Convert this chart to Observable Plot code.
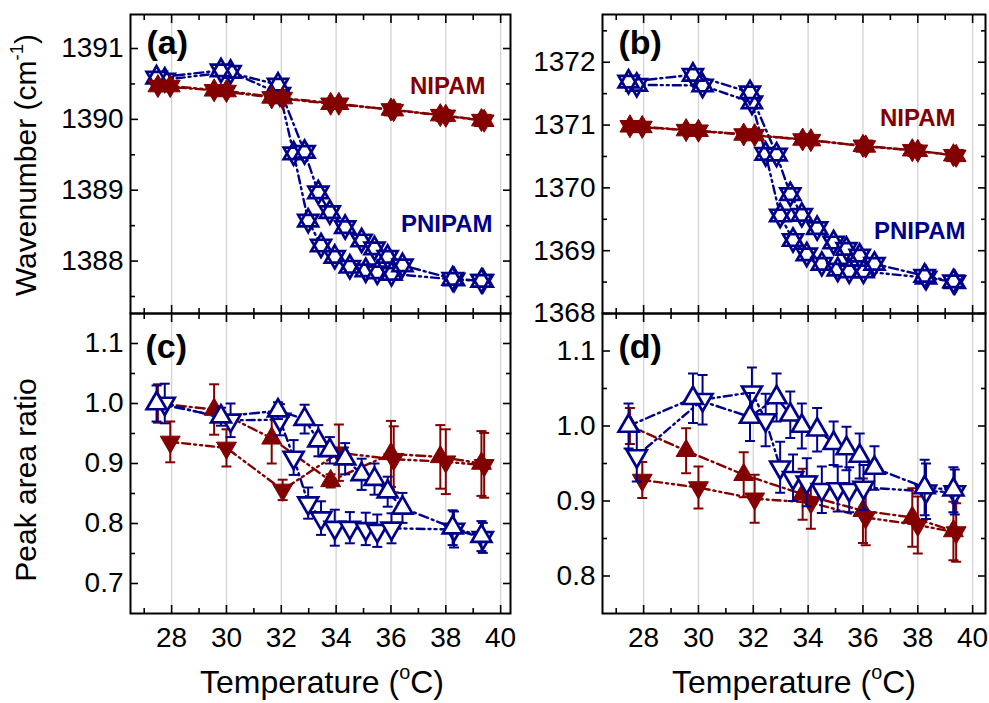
<!DOCTYPE html>
<html><head><meta charset="utf-8">
<script src="https://cdn.jsdelivr.net/npm/d3@7"></script>
<script src="https://cdn.jsdelivr.net/npm/@observablehq/plot@0.6"></script>
<style>
body{margin:0;background:#fff;}
#wrap{position:relative;width:989px;height:703px;overflow:hidden;font-family:"Liberation Sans",Arial,sans-serif;background:#fff;}
#wrap svg{position:absolute;overflow:visible;background:transparent;max-width:none;}
.lab{position:absolute;color:#000;white-space:nowrap;line-height:1;font-family:"Liberation Sans",Arial,sans-serif;}
.sup{font-size:0.62em;position:relative;top:-0.72em;}
</style></head><body><div id="wrap"></div>
<script>
// ---------- data ----------
// temperatures (°C) of the four series
const tempNipamUp    = [27.5, 29.55, 31.65, 33.8, 36.0, 37.8, 39.3];
const tempNipamDown  = [27.95, 30.0, 32.05, 34.1, 36.1, 38.0, 39.4];
const tempPnipamUp   = [27.45, 29.8, 31.88, 32.85, 33.35, 33.77, 34.33, 34.93, 35.4, 35.88, 36.42, 38.25, 39.3];
const tempPnipamDown = [27.75, 30.15, 31.95, 32.45, 32.98, 33.45, 33.95, 34.5, 35.08, 35.5, 36.02, 38.3, 39.35];

// (a) wavenumber ~1390 cm-1
const aNipamUp    = [1390.47, 1390.41, 1390.31, 1390.22, 1390.14, 1390.06, 1389.99];
const aNipamDown  = [1390.47, 1390.40, 1390.30, 1390.22, 1390.13, 1390.05, 1389.98];
const aPnipamUp   = [1390.59, 1390.69, 1390.49, 1389.54, 1388.97, 1388.69, 1388.48, 1388.29, 1388.18, 1388.06, 1387.94, 1387.75, 1387.72];
const aPnipamDown = [1390.56, 1390.67, 1390.36, 1389.52, 1388.57, 1388.22, 1388.06, 1387.92, 1387.87, 1387.84, 1387.82, 1387.74, 1387.72];

// (b) wavenumber ~1370 cm-1
const bNipamUp    = [1370.98, 1370.92, 1370.85, 1370.77, 1370.67, 1370.60, 1370.52];
const bNipamDown  = [1370.97, 1370.91, 1370.84, 1370.76, 1370.66, 1370.59, 1370.51];
const bPnipamUp   = [1371.69, 1371.80, 1371.52, 1370.53, 1369.90, 1369.57, 1369.36, 1369.13, 1369.03, 1368.92, 1368.79, 1368.60, 1368.51];
const bPnipamDown = [1371.64, 1371.63, 1371.36, 1370.54, 1369.56, 1369.17, 1368.94, 1368.79, 1368.70, 1368.67, 1368.67, 1368.57, 1368.50];

// (c) peak area ratio
const cNipamUp       = [1.0, 0.99, 0.942, 0.871, 0.916, 0.911, 0.9];
const cNipamUpErr    = [0.032, 0.042, 0.042, 0.011, 0.055, 0.053, 0.054];
const cNipamDown     = [0.936, 0.926, 0.856, 0.918, 0.907, 0.903, 0.897];
const cNipamDownErr  = [0.034, 0.031, 0.017, 0.047, 0.055, 0.054, 0.054];
const cPnipamUp      = [1.0, 0.978, 0.988, 0.974, 0.938, 0.922, 0.908, 0.882, 0.874, 0.853, 0.826, 0.793, 0.779];
const cPnipamUpErr   = [0.03, 0.015, 0.014, 0.024, 0.026, 0.022, 0.026, 0.026, 0.026, 0.025, 0.025, 0.029, 0.025];
const cPnipamDown    = [1.0, 0.972, 0.973, 0.91, 0.834, 0.809, 0.793, 0.793, 0.791, 0.788, 0.792, 0.79, 0.776];
const cPnipamDownErr = [0.033, 0.028, 0.026, 0.029, 0.026, 0.028, 0.03, 0.026, 0.027, 0.027, 0.025, 0.03, 0.025];

// (d) peak area ratio
const dNipamUp       = [1.0, 0.967, 0.935, 0.909, 0.887, 0.878, 0.86];
const dNipamUpErr    = [0.024, 0.03, 0.03, 0.034, 0.043, 0.039, 0.039];
const dNipamDown     = [0.928, 0.918, 0.903, 0.898, 0.878, 0.868, 0.858];
const dNipamDownErr  = [0.024, 0.028, 0.032, 0.035, 0.037, 0.038, 0.039];
const dPnipamUp      = [1.0, 1.037, 1.012, 1.038, 1.015, 1.0, 0.995, 0.977, 0.97, 0.96, 0.944, 0.918, 0.915];
const dPnipamUpErr   = [0.03, 0.033, 0.032, 0.032, 0.031, 0.03, 0.029, 0.029, 0.029, 0.03, 0.029, 0.037, 0.03];
const dPnipamDown    = [0.96, 1.035, 1.045, 1.008, 0.945, 0.931, 0.925, 0.915, 0.916, 0.915, 0.918, 0.913, 0.912];
const dPnipamDownErr = [0.034, 0.033, 0.033, 0.035, 0.034, 0.031, 0.032, 0.031, 0.03, 0.03, 0.03, 0.037, 0.03];

// tick values / labels
const xMajorTicks = [28, 30, 32, 34, 36, 38, 40];
const xMinorTicks = [27, 29, 31, 33, 35, 37, 39];
const yTicksA = [1388, 1389, 1390, 1391];
const yMinorA = [1387.5, 1388.5, 1389.5, 1390.5];
const yTicksB = [1368, 1369, 1370, 1371, 1372];
const yMinorB = [1368.5, 1369.5, 1370.5, 1371.5, 1372.5];
const yTicksC = [0.7, 0.8, 0.9, 1.0, 1.1];
const yMinorC = [0.75, 0.85, 0.95, 1.05];
const yTicksD = [0.8, 0.9, 1.0, 1.1];
const yMinorD = [0.85, 0.95, 1.05];
const panelLabels = ["(a)", "(b)", "(c)", "(d)"];
const materialLabels = ["NIPAM", "PNIPAM"];

// ---------- styling ----------
const RED = "#820000", BLUE = "#00008b";
const DASH_UP = "9,4,2,4", DASH_DOWN = "2,4,2,4,8,4";
const FONT = '"Liberation Sans", Arial, sans-serif';

// both triangles wound the same way so overlapping fills stay solid
const triUp = {draw(c, size) { const R = Math.sqrt(size / Math.PI);
  c.moveTo(0, -R); c.lineTo(R * 0.866, R * 0.5); c.lineTo(-R * 0.866, R * 0.5); c.closePath(); }};
const triDown = {draw(c, size) { const R = Math.sqrt(size / Math.PI);
  c.moveTo(0, R); c.lineTo(-R * 0.866, -R * 0.5); c.lineTo(R * 0.866, -R * 0.5); c.closePath(); }};
const hexagram = {draw(c, size) { triUp.draw(c, size); triDown.draw(c, size); }};
const capSym = {draw(c, size) { const R = Math.sqrt(size / Math.PI); c.moveTo(-R, 0); c.lineTo(R, 0); }};

function rows(T, v, e) { return T.map((t, i) => ({T: t, v: v[i], e: e ? e[i] : 0})); }

const wrap = document.getElementById("wrap");
const ML = 90, MR = 14, MT = 12, MB = 52;

function panel(p) {
  const W = p.right - p.left, H = p.bottom - p.top;
  const marks = [];
  marks.push(Plot.gridX(xMajorTicks, {stroke: "#d4d4d4", strokeOpacity: 1, strokeWidth: 1.3}));
  for (const s of p.series) {
    marks.push(Plot.line(s.data, {x: "T", y: "v", stroke: s.color, strokeWidth: 2.4, strokeDasharray: s.dash}));
  }
  for (const s of p.series) {
    if (p.errors) {
      marks.push(Plot.ruleX(s.data, {x: "T", y1: d => d.v - d.e, y2: d => d.v + d.e, stroke: s.color, strokeWidth: 2}));
      marks.push(Plot.dot(s.data, {x: "T", y: d => d.v + d.e, symbol: capSym, r: 5, stroke: s.color, strokeWidth: 2}));
      marks.push(Plot.dot(s.data, {x: "T", y: d => d.v - d.e, symbol: capSym, r: 5, stroke: s.color, strokeWidth: 2}));
    }
    marks.push(Plot.dot(s.data, {x: "T", y: "v", symbol: s.symbol, r: 11.5,
      fill: s.filled ? s.color : "white", stroke: s.color, strokeWidth: s.filled ? 1 : 2.7, strokeLinejoin: "miter"}));
  }
  marks.push(Plot.frame({stroke: "#000", strokeWidth: 2}));
  const blank = () => "";
  // y axis labels + inward ticks (left and right)
  marks.push(Plot.axisY(p.yTicks, {anchor: "left", tickSize: 0, tickPadding: 7, tickFormat: p.yFmt, label: null, fontSize: 28, fill: "#000"}));
  marks.push(Plot.axisY(p.yTicks, {anchor: "left", tickSize: 8, dx: 8, tickFormat: blank, label: null, strokeWidth: 1.6}));
  marks.push(Plot.axisY(p.yMinor, {anchor: "left", tickSize: 5, dx: 5, tickFormat: blank, label: null, strokeWidth: 1.6}));
  marks.push(Plot.axisY(p.yTicks, {anchor: "right", tickSize: 8, dx: -8, tickFormat: blank, label: null, strokeWidth: 1.6}));
  marks.push(Plot.axisY(p.yMinor, {anchor: "right", tickSize: 5, dx: -5, tickFormat: blank, label: null, strokeWidth: 1.6}));
  // x axis ticks inward (top and bottom)
  marks.push(Plot.axisX(xMajorTicks, {anchor: "bottom", tickSize: 8, dy: -8, tickFormat: blank, label: null, strokeWidth: 1.6}));
  marks.push(Plot.axisX(xMinorTicks, {anchor: "bottom", tickSize: 5, dy: -5, tickFormat: blank, label: null, strokeWidth: 1.6}));
  marks.push(Plot.axisX(xMajorTicks, {anchor: "top", tickSize: 8, dy: 8, tickFormat: blank, label: null, strokeWidth: 1.6}));
  marks.push(Plot.axisX(xMinorTicks, {anchor: "top", tickSize: 5, dy: 5, tickFormat: blank, label: null, strokeWidth: 1.6}));
  if (p.xLabels) {
    marks.push(Plot.axisX(xMajorTicks, {anchor: "bottom", tickSize: 0, tickPadding: 14, tickFormat: d => String(d), label: null, fontSize: 28, fill: "#000"}));
  }
  for (const t of p.texts) {
    marks.push(Plot.text([t.text], {text: d => d, frameAnchor: t.anchor, dx: t.dx, dy: t.dy, lineAnchor: "top",
      textAnchor: t.textAnchor, fontSize: t.size, fontWeight: "bold", fill: t.color}));
  }
  const svg = Plot.plot({
    width: W + ML + MR, height: H + MT + MB,
    marginLeft: ML, marginRight: MR, marginTop: MT, marginBottom: MB,
    x: {domain: p.xDomain}, y: {domain: p.yDomain},
    style: {background: "transparent", overflow: "visible", fontFamily: FONT, fontSize: "28px", color: "#000"},
    marks
  });
  svg.style.left = (p.left - ML) + "px";
  svg.style.top = (p.top - MT) + "px";
  wrap.appendChild(svg);
}

function seriesTop(nUp, nDn, pUp, pDn) {
  return [
    {data: rows(tempPnipamDown, pDn), color: BLUE, filled: false, dash: DASH_DOWN, symbol: hexagram},
    {data: rows(tempPnipamUp, pUp), color: BLUE, filled: false, dash: DASH_UP, symbol: hexagram},
    {data: rows(tempNipamDown, nDn), color: RED, filled: true, dash: DASH_DOWN, symbol: hexagram},
    {data: rows(tempNipamUp, nUp), color: RED, filled: true, dash: DASH_UP, symbol: hexagram}
  ];
}
function seriesBottom(nUp, nUpE, nDn, nDnE, pUp, pUpE, pDn, pDnE) {
  return [
    {data: rows(tempNipamUp, nUp, nUpE), color: RED, filled: true, dash: DASH_UP, symbol: triUp},
    {data: rows(tempNipamDown, nDn, nDnE), color: RED, filled: true, dash: DASH_DOWN, symbol: triDown},
    {data: rows(tempPnipamDown, pDn, pDnE), color: BLUE, filled: false, dash: DASH_DOWN, symbol: triDown},
    {data: rows(tempPnipamUp, pUp, pUpE), color: BLUE, filled: false, dash: DASH_UP, symbol: triUp}
  ];
}
const fmtInt = d => String(d);
const fmt1 = d3.format(".1f");

panel({left: 130, right: 510, top: 14, bottom: 313, xDomain: [26.5, 40.36], yDomain: [1387.26, 1391.48],
  yTicks: yTicksA, yMinor: yMinorA, yFmt: fmtInt, xLabels: false, errors: false,
  series: seriesTop(aNipamUp, aNipamDown, aPnipamUp, aPnipamDown),
  texts: [
    {text: panelLabels[0], anchor: "top-left", dx: 16, dy: 15, size: 34, color: "#000", textAnchor: "start"},
    {text: materialLabels[0], anchor: "top-right", dx: -25, dy: 62, size: 24, color: RED, textAnchor: "end"},
    {text: materialLabels[1], anchor: "top-right", dx: -18, dy: 200, size: 24, color: BLUE, textAnchor: "end"}
  ]});
panel({left: 602, right: 985, top: 14, bottom: 313, xDomain: [26.5, 40.47], yDomain: [1368, 1372.76],
  yTicks: yTicksB, yMinor: yMinorB, yFmt: fmtInt, xLabels: false, errors: false,
  series: seriesTop(bNipamUp, bNipamDown, bPnipamUp, bPnipamDown),
  texts: [
    {text: panelLabels[1], anchor: "top-left", dx: 16, dy: 15, size: 34, color: "#000", textAnchor: "start"},
    {text: materialLabels[0], anchor: "top-right", dx: -30, dy: 94, size: 24, color: RED, textAnchor: "end"},
    {text: materialLabels[1], anchor: "top-right", dx: -20, dy: 207, size: 24, color: BLUE, textAnchor: "end"}
  ]});
panel({left: 130, right: 510, top: 313, bottom: 613, xDomain: [26.5, 40.36], yDomain: [0.65, 1.15],
  yTicks: yTicksC, yMinor: yMinorC, yFmt: fmt1, xLabels: true, errors: true,
  series: seriesBottom(cNipamUp, cNipamUpErr, cNipamDown, cNipamDownErr, cPnipamUp, cPnipamUpErr, cPnipamDown, cPnipamDownErr),
  texts: [
    {text: panelLabels[2], anchor: "top-left", dx: 15, dy: 20, size: 34, color: "#000", textAnchor: "start"}
  ]});
panel({left: 602, right: 985, top: 313, bottom: 613, xDomain: [26.5, 40.47], yDomain: [0.75, 1.15],
  yTicks: yTicksD, yMinor: yMinorD, yFmt: fmt1, xLabels: true, errors: true,
  series: seriesBottom(dNipamUp, dNipamUpErr, dNipamDown, dNipamDownErr, dPnipamUp, dPnipamUpErr, dPnipamDown, dPnipamDownErr),
  texts: [
    {text: panelLabels[3], anchor: "top-left", dx: 16, dy: 20, size: 34, color: "#000", textAnchor: "start"}
  ]});

// axis titles
function addLabel(html, cx, cy, size, rotate) {
  const d = document.createElement("div");
  d.className = "lab";
  d.innerHTML = html;
  d.style.left = cx + "px"; d.style.top = cy + "px"; d.style.fontSize = size + "px";
  d.style.transform = "translate(-50%,-50%)" + (rotate ? " rotate(-90deg)" : "");
  wrap.appendChild(d);
}
addLabel('Wavenumber (cm<span class="sup">-1</span>)', 26, 165, 30, true);
addLabel('Peak area ratio', 26, 480, 30, true);
addLabel('Temperature (<span class="sup">o</span>C)', 322, 682, 32, false);
addLabel('Temperature (<span class="sup">o</span>C)', 794, 682, 32, false);
</script></body></html>
